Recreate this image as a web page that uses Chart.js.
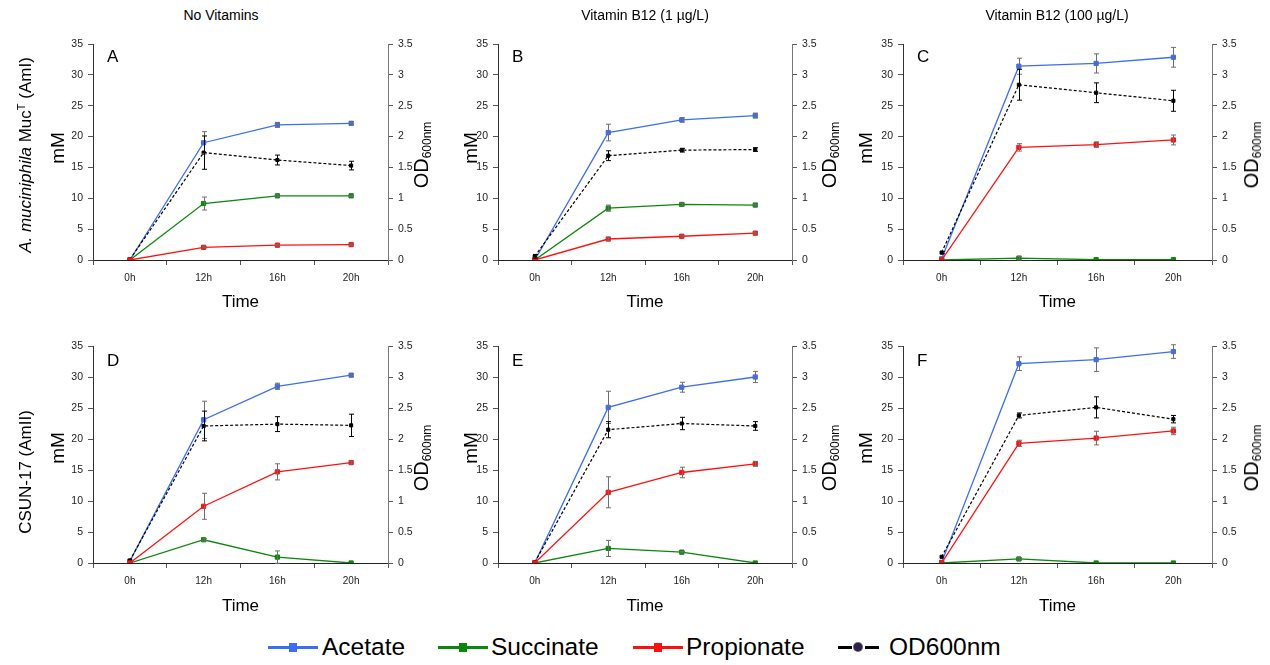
<!DOCTYPE html>
<html>
<head>
<meta charset="utf-8">
<script src="https://cdn.jsdelivr.net/npm/chart.js@4.4.1/dist/chart.umd.min.js"></script>
<style>
  body { margin: 0; background: #fff; width: 1270px; height: 665px; overflow: hidden; position: relative;
         font-family: "Liberation Sans", Arial, sans-serif; color: #000; }
  canvas.panel { position: absolute; }
  .lbl { position: absolute; white-space: nowrap; line-height: 1; }
  .ctr { transform: translate(-50%, -50%); }
  .rot { transform: translate(-50%, -50%) rotate(-90deg); }
  .colTitle { font-size: 14px; }
  .rowTitle { font-size: 17px; }
  .mm { font-size: 19px; }
  .od { font-size: 20px; }
  .od sub { font-size: 12px; vertical-align: -3px; }
  .letter { font-size: 17px; transform: translate(0, -50%); }
  .lg-line { position: absolute; height: 3px; }
  .lg-mark { position: absolute; width: 8px; height: 9px; }
  .lg-text { position: absolute; font-size: 24.5px; line-height: 24px; white-space: nowrap; }
</style>
</head>
<body>
<script>
// time points (x axis)
const timeLabels = ['0h', '12h', '16h', '20h'];
const panelLetters = ['A', 'B', 'C', 'D', 'E', 'F'];
const columnTitles = ['No Vitamins', 'Vitamin B12 (1 \u00b5g/L)', 'Vitamin B12 (100 \u00b5g/L)'];

// mM, one row per panel A..F
const acetate = [
  [0, 19.0, 21.9, 22.15],
  [0, 20.65, 22.7, 23.4],
  [0.2, 31.4, 31.85, 32.85],
  [0.3, 23.1, 28.5, 30.3],
  [0, 25.1, 28.35, 30.0],
  [0.1, 32.15, 32.8, 34.1]
];
const acetateErr = [
  [0, 1.8, 0.4, 0.25],
  [0, 1.35, 0.35, 0.4],
  [0, 1.3, 1.55, 1.6],
  [0, 3.0, 0.5, 0.25],
  [0, 2.6, 0.8, 0.9],
  [0, 1.1, 1.9, 1.1]
];
const succinate = [
  [0, 9.15, 10.4, 10.4],
  [0, 8.4, 9.0, 8.9],
  [0, 0.3, 0.05, 0.05],
  [0, 3.75, 0.95, 0],
  [0, 2.35, 1.75, 0],
  [0, 0.65, 0, 0]
];
const succinateErr = [
  [0, 1.05, 0.15, 0.1],
  [0, 0.5, 0.2, 0.15],
  [0, 0.3, 0, 0],
  [0, 0.15, 1.0, 0],
  [0, 1.3, 0.1, 0],
  [0, 0.2, 0, 0]
];
const propionate = [
  [0, 2.05, 2.4, 2.5],
  [0, 3.4, 3.85, 4.35],
  [0, 18.25, 18.7, 19.45],
  [0, 9.15, 14.7, 16.2],
  [0, 11.4, 14.6, 16.0],
  [0, 19.3, 20.15, 21.3]
];
const propionateErr = [
  [0, 0.1, 0.1, 0.1],
  [0, 0.2, 0.1, 0.15],
  [0, 0.6, 0.45, 0.8],
  [0, 2.1, 1.3, 0.2],
  [0, 2.5, 0.85, 0.4],
  [0, 0.5, 1.1, 0.6]
];
// OD600nm, right axis
const od = [
  [0.01, 1.74, 1.62, 1.53],
  [0.06, 1.69, 1.78, 1.79],
  [0.12, 2.84, 2.71, 2.58],
  [0.04, 2.21, 2.24, 2.22],
  [0.01, 2.15, 2.25, 2.21],
  [0.10, 2.38, 2.51, 2.32]
];
const odErr = [
  [0, 0.27, 0.08, 0.07],
  [0.03, 0.08, 0.03, 0.03],
  [0.02, 0.25, 0.16, 0.17],
  [0, 0.24, 0.12, 0.18],
  [0, 0.13, 0.1, 0.07],
  [0, 0.04, 0.17, 0.06]
];

const FONT = "'Liberation Sans', Arial, sans-serif";
const colours = { acetate: '#3d6df2', succinate: '#0b870b', propionate: '#ff1010', od: '#000000' };

// panel placement on the page
const cols = [
  { left: 40, width: 400, yW: 53, y1W: 52, mmX: 57, odX: 422, titleX: 221 },
  { left: 445, width: 405, yW: 53, y1W: 58, mmX: 470, odX: 830, titleX: 645 },
  { left: 850, width: 418, yW: 53, y1W: 56, mmX: 865, odX: 1252, titleX: 1057 }
];
const rows = [
  { top: 30, height: 290, padTop: 14, xH: 60, titlePad: 7, mmY: 148, odY: 155, rowY: 155 },
  { top: 330, height: 295, padTop: 16, xH: 62, titlePad: 8, mmY: 448, odY: 458, rowY: 472 }
];
const rowTitles = ['<i>A. muciniphila</i> Muc<sup style="font-size:11px">T</sup> (AmI)', 'CSUN-17 (AmII)'];

const errorBars = {
  id: 'errorBars',
  afterDatasetsDraw(chart) {
    const ctx = chart.ctx;
    chart.data.datasets.forEach((ds, i) => {
      if (!ds.errors) return;
      const meta = chart.getDatasetMeta(i);
      const scale = chart.scales[ds.yAxisID];
      ctx.save();
      ctx.strokeStyle = ds.errorColor;
      ctx.lineWidth = 1;
      meta.data.forEach((pt, j) => {
        const e = ds.errors[j];
        if (!e) return;
        const v = ds.data[j];
        const yTop = scale.getPixelForValue(v + e);
        const yBot = scale.getPixelForValue(v - e);
        const x = Math.round(pt.x) + 0.5;
        ctx.beginPath();
        ctx.moveTo(x, yTop); ctx.lineTo(x, yBot);
        ctx.moveTo(x - 2.5, yTop); ctx.lineTo(x + 2.5, yTop);
        ctx.moveTo(x - 2.5, yBot); ctx.lineTo(x + 2.5, yBot);
        ctx.stroke();
      });
      ctx.restore();
    });
  }
};

function addLabel(html, cls, x, y) {
  const d = document.createElement('div');
  d.className = 'lbl ' + cls;
  d.style.left = x + 'px';
  d.style.top = y + 'px';
  d.innerHTML = html;
  document.body.appendChild(d);
  return d;
}

function addBox(cls, css) {
  const d = document.createElement('div');
  d.className = cls;
  d.style.cssText = css;
  document.body.appendChild(d);
  return d;
}

function chemSet(label, data, errs, colour, order) {
  return {
    label: label, data: data, errors: errs, errorColor: '#6e6e6e', yAxisID: 'y', order: order,
    borderColor: colour, backgroundColor: colour, borderWidth: 1.3,
    pointStyle: 'rect', pointRadius: 3, pointBorderWidth: 1, pointBorderColor: colour,
    pointBackgroundColor: colour, tension: 0
  };
}

for (let p = 0; p < 6; p++) {
  const col = cols[p % 3];
  const row = rows[Math.floor(p / 3)];
  const cv = document.createElement('canvas');
  cv.className = 'panel';
  cv.width = col.width;
  cv.height = row.height;
  cv.style.left = col.left + 'px';
  cv.style.top = row.top + 'px';
  document.body.appendChild(cv);

  const tickFont = { family: FONT, size: 10.5 };
  const yGrid = { drawOnChartArea: false, tickLength: 5, color: '#555' };

  new Chart(cv.getContext('2d'), {
    type: 'line',
    data: {
      labels: timeLabels,
      datasets: [
        chemSet('Acetate', acetate[p], acetateErr[p], colours.acetate, 3),
        chemSet('Succinate', succinate[p], succinateErr[p], colours.succinate, 2),
        chemSet('Propionate', propionate[p], propionateErr[p], colours.propionate, 0),
        {
          label: 'OD600nm', data: od[p], errors: odErr[p], errorColor: '#000', yAxisID: 'y1', order: 1,
          borderColor: '#000', backgroundColor: '#000', borderWidth: 1.2, borderDash: [3, 2],
          pointStyle: 'rect', pointRadius: 2.2, pointBorderWidth: 1, pointBorderColor: '#000',
          pointBackgroundColor: '#000', tension: 0
        }
      ]
    },
    options: {
      responsive: false,
      animation: false,
      layout: { padding: { top: row.padTop, left: 0, right: 0, bottom: 0 } },
      plugins: { legend: { display: false }, tooltip: { enabled: false } },
      scales: {
        x: {
          offset: true,
          grid: { offset: true, drawOnChartArea: false, tickLength: 5, color: '#555' },
          border: { color: '#222' },
          ticks: { font: { family: FONT, size: 10 }, color: '#222', padding: 7, maxRotation: 0 },
          title: { display: true, text: 'Time', color: '#000', font: { family: FONT, size: 17 },
                   padding: { top: 0, bottom: row.titlePad } },
          afterFit: (s) => { s.height = row.xH; }
        },
        y: {
          position: 'left', min: 0, max: 35,
          ticks: { stepSize: 5, font: tickFont, color: '#222', padding: 5 },
          grid: yGrid,
          border: { color: '#333' },
          afterFit: (s) => { s.width = col.yW; }
        },
        y1: {
          position: 'right', min: 0, max: 3.5,
          ticks: { stepSize: 0.5, font: tickFont, color: '#222', padding: 5,
                   callback: (v) => String(Math.round(v * 10) / 10) },
          grid: yGrid,
          border: { color: '#777' },
          afterFit: (s) => { s.width = col.y1W; }
        }
      }
    },
    plugins: [errorBars]
  });

  // panel texts
  const plotLeft = col.left + col.yW;
  const plotTop = row.top + row.padTop;
  addLabel(panelLetters[p], 'letter', plotLeft + 14, plotTop + (p < 3 ? 12 : 14));
  addLabel('mM', 'rot mm', col.mmX, row.mmY);
  addLabel('OD<sub>600nm</sub>', 'rot od', col.odX, row.odY);
}

columnTitles.forEach((t, i) => addLabel(t, 'ctr colTitle', cols[i].titleX, 15));
rowTitles.forEach((t, i) => addLabel(t, 'rot rowTitle', 25, rows[i].rowY));

// shared legend, centred under the panels
const legendItems = [
  { text: 'Acetate', colour: colours.acetate, x: 268, textX: 322 },
  { text: 'Succinate', colour: colours.succinate, x: 438, textX: 491 },
  { text: 'Propionate', colour: colours.propionate, x: 633, textX: 686 },
  { text: 'OD600nm', colour: '#000', x: 838, textX: 889, dashed: true }
];
const legendY = 647;
legendItems.forEach((it) => {
  if (it.dashed) {
    addBox('lg-line', `left:${it.x}px;top:${legendY - 1.5}px;width:14px;background:#000;`);
    addBox('lg-line', `left:${it.x + 27}px;top:${legendY - 1.5}px;width:14px;background:#000;`);
    addBox('lg-mark', `left:${it.x + 16}px;top:${legendY - 4}px;width:8px;height:8px;border-radius:50%;` +
                      'background:#2d2340;box-shadow:0 0 0 1px #6b5a9a;');
  } else {
    addBox('lg-line', `left:${it.x}px;top:${legendY - 1.5}px;width:50px;background:${it.colour};`);
    addBox('lg-mark', `left:${it.x + 21}px;top:${legendY - 4.5}px;background:${it.colour};`);
  }
  const t = addBox('lg-text', `left:${it.textX}px;top:${legendY - 12}px;`);
  t.textContent = it.text;
});
</script>
</body>
</html>
